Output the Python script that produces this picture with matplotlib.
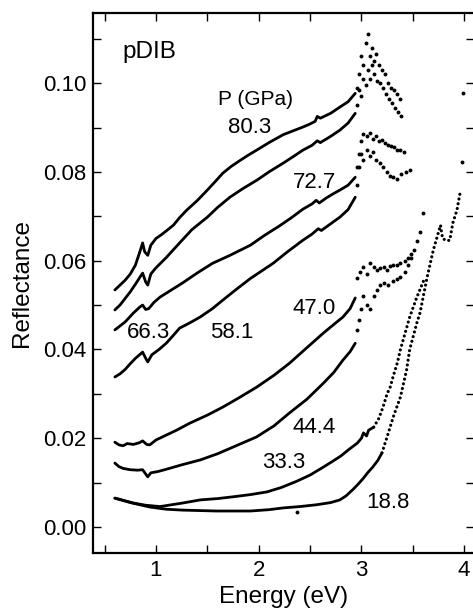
import matplotlib
matplotlib.use("Agg")
import matplotlib.pyplot as plt
from matplotlib.ticker import MultipleLocator, FormatStrFormatter

plt.rcParams['font.family'] = ['Liberation Sans', 'DejaVu Sans']

# ---------------- data ----------------
pressures = ["80.3", "72.7", "66.3", "58.1", "47.0", "44.4", "33.3", "18.8"]

# 80.3 GPa
e_803 = [0.60, 0.65, 0.70, 0.75, 0.80, 0.85, 0.87, 0.89, 0.92, 0.95, 1.00, 1.05, 1.10, 1.17, 1.23, 1.30, 1.40, 1.50, 1.58, 1.65, 1.73, 1.82, 1.90, 1.98, 2.10, 2.24, 2.34, 2.43, 2.50, 2.55, 2.57, 2.60, 2.70, 2.79, 2.87, 2.94]
r_803 = [0.0534, 0.0545, 0.0556, 0.0570, 0.0590, 0.0625, 0.0640, 0.0620, 0.0612, 0.0635, 0.0650, 0.0658, 0.0667, 0.0680, 0.0697, 0.0714, 0.0735, 0.0759, 0.0779, 0.0797, 0.0812, 0.0826, 0.0838, 0.0849, 0.0866, 0.0884, 0.0893, 0.0901, 0.0908, 0.0914, 0.0925, 0.0921, 0.0932, 0.0946, 0.0958, 0.0977]
e_803_pk = [2.96, 2.98, 3.00, 3.02, 3.04, 3.06, 3.08, 3.10, 3.12, 3.14, 3.17, 3.20, 3.23, 3.26, 3.29, 3.32, 3.35, 3.38]
r_803_pk = [0.0990, 0.1020, 0.1060, 0.1040, 0.1090, 0.1110, 0.1060, 0.1080, 0.1050, 0.1065, 0.1040, 0.1030, 0.1020, 0.1000, 0.0990, 0.0985, 0.0975, 0.0965]

# 72.7 GPa
e_727 = [0.60, 0.65, 0.70, 0.75, 0.80, 0.85, 0.87, 0.90, 0.92, 0.95, 1.00, 1.10, 1.23, 1.35, 1.50, 1.60, 1.72, 1.85, 1.98, 2.10, 2.24, 2.34, 2.43, 2.52, 2.57, 2.60, 2.70, 2.79, 2.87, 2.94]
r_727 = [0.0489, 0.0500, 0.0515, 0.0530, 0.0547, 0.0565, 0.0572, 0.0552, 0.0545, 0.0570, 0.0584, 0.0607, 0.0640, 0.0670, 0.0698, 0.0720, 0.0743, 0.0763, 0.0781, 0.0800, 0.0820, 0.0835, 0.0849, 0.0860, 0.0870, 0.0866, 0.0880, 0.0894, 0.0910, 0.0932]
e_727_pk = [2.96, 2.98, 3.00, 3.02, 3.04, 3.06, 3.08, 3.10, 3.12, 3.15, 3.18, 3.21, 3.24, 3.27, 3.30, 3.33, 3.36, 3.39]
r_727_pk = [0.0950, 0.0985, 0.0970, 0.1010, 0.0995, 0.1030, 0.1010, 0.1040, 0.1020, 0.1005, 0.1000, 0.0990, 0.0975, 0.0965, 0.0955, 0.0945, 0.0935, 0.0925]

# 66.3 GPa
e_663 = [0.60, 0.70, 0.78, 0.84, 0.87, 0.90, 0.93, 0.98, 1.04, 1.15, 1.26, 1.40, 1.55, 1.72, 1.92, 2.05, 2.20, 2.32, 2.43, 2.52, 2.56, 2.59, 2.65, 2.72, 2.79, 2.87, 2.94]
r_663 = [0.0444, 0.0462, 0.0482, 0.0495, 0.0500, 0.0490, 0.0492, 0.0506, 0.0518, 0.0534, 0.0550, 0.0572, 0.0594, 0.0612, 0.0635, 0.0656, 0.0678, 0.0697, 0.0716, 0.0728, 0.0736, 0.0730, 0.0740, 0.0750, 0.0759, 0.0770, 0.0788]
e_663_pk = [2.96, 2.98, 3.00, 3.02, 3.05, 3.08, 3.11, 3.14, 3.17, 3.20, 3.23, 3.26, 3.29, 3.32, 3.35, 3.38, 3.41]
r_663_pk = [0.0810, 0.0840, 0.0870, 0.0885, 0.0880, 0.0887, 0.0875, 0.0880, 0.0870, 0.0871, 0.0865, 0.0860, 0.0858, 0.0855, 0.0850, 0.0849, 0.0845]

# 58.1 GPa
e_581 = [0.60, 0.65, 0.70, 0.75, 0.80, 0.87, 0.90, 0.92, 0.96, 1.03, 1.10, 1.17, 1.23, 1.33, 1.43, 1.55, 1.65, 1.78, 1.92, 2.03, 2.14, 2.28, 2.43, 2.52, 2.58, 2.61, 2.70, 2.79, 2.87, 2.94]
r_581 = [0.0338, 0.0345, 0.0355, 0.0368, 0.0380, 0.0394, 0.0380, 0.0372, 0.0388, 0.0400, 0.0414, 0.0432, 0.0448, 0.0460, 0.0473, 0.0492, 0.0511, 0.0535, 0.0560, 0.0577, 0.0594, 0.0620, 0.0646, 0.0660, 0.0672, 0.0668, 0.0683, 0.0698, 0.0715, 0.0743]
e_581_pk = [2.96, 2.98, 3.00, 3.02, 3.05, 3.08, 3.11, 3.14, 3.18, 3.21, 3.25, 3.28, 3.31, 3.35, 3.39, 3.43, 3.47]
r_581_pk = [0.0770, 0.0810, 0.0840, 0.0826, 0.0850, 0.0835, 0.0845, 0.0826, 0.0820, 0.0810, 0.0800, 0.0790, 0.0788, 0.0785, 0.0795, 0.0800, 0.0804]

# 47.0 GPa
e_470 = [0.60, 0.64, 0.68, 0.72, 0.78, 0.84, 0.87, 0.91, 0.94, 1.00, 1.10, 1.20, 1.33, 1.50, 1.65, 1.80, 1.98, 2.15, 2.30, 2.45, 2.63, 2.74, 2.82, 2.89, 2.94]
r_470 = [0.0191, 0.0185, 0.0183, 0.0188, 0.0186, 0.0190, 0.0194, 0.0186, 0.0185, 0.0196, 0.0207, 0.0218, 0.0234, 0.0252, 0.0270, 0.0290, 0.0315, 0.0342, 0.0369, 0.0400, 0.0437, 0.0458, 0.0473, 0.0492, 0.0516]
e_470_pk = [2.96, 2.99, 3.02, 3.05, 3.08, 3.12, 3.15, 3.18, 3.22, 3.25, 3.28, 3.31, 3.35, 3.38, 3.42, 3.45, 3.48, 3.51, 3.54, 3.57, 3.60]
r_470_pk = [0.0560, 0.0575, 0.0585, 0.0570, 0.0594, 0.0585, 0.0580, 0.0583, 0.0585, 0.0580, 0.0588, 0.0590, 0.0590, 0.0594, 0.0600, 0.0605, 0.0615, 0.0625, 0.0645, 0.0665, 0.0707]

# 44.4 GPa
e_444 = [0.60, 0.64, 0.68, 0.75, 0.82, 0.87, 0.92, 0.95, 1.02, 1.10, 1.25, 1.43, 1.60, 1.75, 1.98, 2.15, 2.30, 2.47, 2.63, 2.73, 2.82, 2.89, 2.94]
r_444 = [0.0144, 0.0136, 0.0132, 0.0129, 0.0128, 0.0129, 0.0113, 0.0122, 0.0125, 0.0130, 0.0140, 0.0151, 0.0165, 0.0180, 0.0203, 0.0228, 0.0257, 0.0288, 0.0324, 0.0348, 0.0376, 0.0395, 0.0414]
e_444_pk = [2.96, 2.98, 3.00, 3.02, 3.05, 3.08, 3.12, 3.15, 3.18, 3.22, 3.26, 3.31, 3.35, 3.38, 3.42, 3.45, 3.48]
r_444_pk = [0.0444, 0.0466, 0.0490, 0.0520, 0.0500, 0.0490, 0.0520, 0.0534, 0.0545, 0.0550, 0.0545, 0.0555, 0.0558, 0.0563, 0.0575, 0.0590, 0.0605]

# 33.3 GPa
e_333 = [0.60, 0.70, 0.78, 0.90, 1.04, 1.15, 1.26, 1.43, 1.60, 1.75, 1.92, 2.08, 2.22, 2.37, 2.50, 2.63, 2.72, 2.80, 2.88, 2.96, 3.00, 3.02, 3.05, 3.07, 3.12]
r_333 = [0.0065, 0.0059, 0.0054, 0.0049, 0.0046, 0.0050, 0.0054, 0.0061, 0.0064, 0.0068, 0.0073, 0.0079, 0.0089, 0.0103, 0.0117, 0.0135, 0.0148, 0.0160, 0.0175, 0.0189, 0.0200, 0.0212, 0.0205, 0.0218, 0.0225]
e_333_edge = [3.12, 3.17, 3.21, 3.25, 3.28, 3.31, 3.35, 3.38, 3.47, 3.54, 3.62]
r_333_edge = [0.0225, 0.0245, 0.0270, 0.0300, 0.0315, 0.0340, 0.0370, 0.0400, 0.0473, 0.0518, 0.0563]

# 18.8 GPa
e_188 = [0.60, 0.75, 0.94, 1.10, 1.26, 1.59, 1.92, 2.10, 2.24, 2.40, 2.56, 2.70, 2.79, 2.85, 2.92, 2.97, 3.02, 3.06, 3.11, 3.16, 3.20]
r_188 = [0.0065, 0.0055, 0.0045, 0.0040, 0.0038, 0.0036, 0.0036, 0.0039, 0.0043, 0.0046, 0.0050, 0.0055, 0.0061, 0.0070, 0.0085, 0.0097, 0.0110, 0.0122, 0.0135, 0.0150, 0.0167]
e_188_edge = [3.20, 3.25, 3.31, 3.38, 3.44, 3.47, 3.54, 3.57, 3.64, 3.70, 3.77, 3.79, 3.83, 3.86, 3.89, 3.93, 3.96]
r_188_edge = [0.0167, 0.0203, 0.0248, 0.0293, 0.0354, 0.0400, 0.0460, 0.0482, 0.0563, 0.0624, 0.0680, 0.0650, 0.0645, 0.0646, 0.0685, 0.0714, 0.0752]
e_188_iso = [2.37, 3.98, 3.99]
r_188_iso = [0.0034, 0.0822, 0.0977]

x_ticks = [1, 2, 3, 4]
y_ticks = [0.00, 0.02, 0.04, 0.06, 0.08, 0.10]

# ---------------- figure ----------------
fig = plt.figure(figsize=(4.73, 6.10), dpi=100)
ax = fig.add_axes([93/473, (610-553)/610, (474-93)/473, (553-13)/610])

solid = dict(color='black', lw=2.0, solid_capstyle='round', solid_joinstyle='round')
dotted = dict(color='black', lw=2.3, linestyle=(0, (0.01, 1.5)), dash_capstyle='round')
dots = dict(color='black', ls='none', marker='o', ms=2.8, mew=0)

for e, r in [(e_803, r_803), (e_727, r_727), (e_663, r_663), (e_581, r_581),
             (e_470, r_470), (e_444, r_444), (e_333, r_333), (e_188, r_188)]:
    ax.plot(e, r, **solid)

for e, r in [(e_803_pk, r_803_pk), (e_727_pk, r_727_pk), (e_663_pk, r_663_pk),
             (e_581_pk, r_581_pk), (e_470_pk, r_470_pk), (e_444_pk, r_444_pk)]:
    ax.plot(e, r, **dots)

for e, r in [(e_333_edge, r_333_edge), (e_188_edge, r_188_edge)]:
    ax.plot(e, r, **dotted)
ax.plot(e_188_iso, r_188_iso, **dots)

ax.set_xlim(0.387, 4.096)
ax.set_ylim(-0.00586, 0.1158)
ax.set_xticks(x_ticks)
ax.set_yticks(y_ticks)
ax.xaxis.set_minor_locator(MultipleLocator(0.5))
ax.yaxis.set_minor_locator(MultipleLocator(0.01))
ax.yaxis.set_major_formatter(FormatStrFormatter('%.2f'))
ax.tick_params(which='both', direction='in', top=True, right=True,
               length=6, width=1.0, labelsize=16)
ax.tick_params(axis='y', pad=5)
ax.tick_params(axis='x', pad=5)
for s in ax.spines.values():
    s.set_linewidth(1.6)

ax.set_xlabel('Energy (eV)', fontsize=17.5, labelpad=4)
ax.set_ylabel('Reflectance', fontsize=17.5, labelpad=7)

ax.text(0.67, 0.107, 'pDIB', fontsize=17.5, va='center', ha='left')
ax.text(1.60, 0.0962, 'P (GPa)', fontsize=15, va='center', ha='left')
label_pos = {"80.3": (1.70, 0.0899), "72.7": (2.33, 0.0777), "66.3": (0.72, 0.0439),
             "58.1": (1.53, 0.0439), "47.0": (2.33, 0.0493), "44.4": (2.33, 0.0225),
             "33.3": (2.03, 0.0146), "18.8": (3.05, 0.0056)}
for p in pressures:
    x, y = label_pos[p]
    ax.text(x, y, p, fontsize=16, va='center', ha='left')

fig.savefig('out.png', dpi=100)
